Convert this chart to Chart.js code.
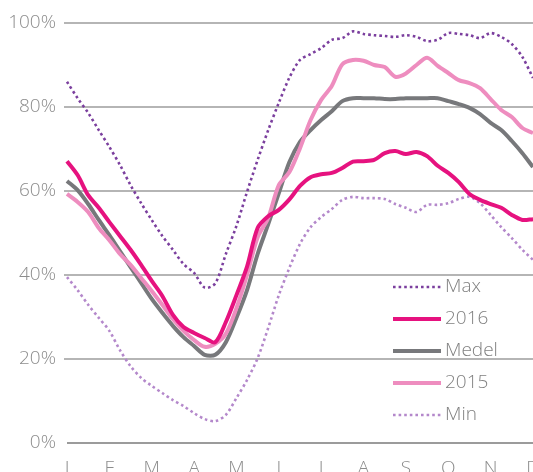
<!DOCTYPE html>
<html>
<head>
<meta charset="utf-8">
<script src="https://cdn.jsdelivr.net/npm/chart.js@4/dist/chart.umd.min.js"></script>
<style>
  html, body { margin: 0; padding: 0; background: #fff; overflow: hidden; }
  #wrap { position: relative; width: 546px; height: 472px; }
</style>
</head>
<body>
<div id="wrap"><canvas id="chart"></canvas></div>
<script>
// month initials along the x axis, weekly-ish steps in between
const months = ["J", "F", "M", "A", "M", "J", "J", "A", "S", "O", "N", "D"];
const weekLabels = months.flatMap((m, i) => (i < months.length - 1 ? [m, "", "", ""] : [m]));

const yTicks = [0, 20, 40, 60, 80, 100];

// fill level, %
const maxValues = [86, 82.1, 78.6, 74.5, 70.5, 66.2, 61.4, 57.1, 53.1, 49.3, 46, 42.6, 40.5, 37, 38,
  45, 51.7, 59.8, 67.4, 74.5, 81, 87, 91.2, 92.6, 94, 96, 96.4, 98, 97.4, 97.1, 96.9, 96.7, 97.1,
  96.7, 95.7, 96, 97.6, 97.4, 97.1, 96.4, 97.6, 96.7, 95, 91.9, 86.9];
const values2016 = [67.1, 63.8, 59, 56, 52.6, 49.3, 46, 42.4, 38.6, 35, 30.5, 27.6, 26.2, 25, 24,
  28.8, 35.2, 42, 51.2, 54, 55.5, 58, 61.2, 63.3, 64, 64.3, 65.5, 67, 67.1, 67.4, 69, 69.5, 68.8,
  69.3, 68.3, 66, 64.3, 62.1, 59.3, 57.9, 56.9, 56, 54.3, 53.1, 53.3];
const medelValues = [62.4, 60.2, 56.9, 53.1, 49.5, 45.7, 41.9, 38.1, 34.3, 31, 27.9, 25.2, 23.1, 21, 21,
  24, 29.8, 36.4, 45, 52.1, 59.5, 66.9, 71.7, 74.5, 76.9, 79, 81.4, 82.1, 82.1, 82.1, 81.9, 81.9, 82.1,
  82.1, 82.1, 82.1, 81.4, 80.7, 79.8, 78.3, 76.2, 74.5, 71.9, 69, 65.7];
const values2015 = [59.3, 57.4, 55, 51.2, 48.3, 45, 42.4, 39.3, 36.2, 32.9, 29.5, 26.7, 24.5, 22.9, 23.6,
  26, 32.1, 40, 49, 53.6, 61.4, 64.5, 70.2, 76.9, 81.7, 85, 90.2, 91.2, 91, 90, 89.5, 87.2, 88,
  90, 91.7, 89.8, 88.1, 86.4, 85.7, 84.5, 81.9, 79.3, 77.6, 75, 73.8];
const minValues = [39.5, 36.4, 32.9, 29.8, 26.7, 22.1, 18.3, 15.5, 13.6, 11.9, 10.2, 8.8, 7.1, 5.7, 5.2,
  6.7, 10.7, 15, 20.2, 27.4, 35.2, 41.7, 47.4, 51.4, 53.8, 55.7, 57.9, 58.6, 58.3, 58.3, 58.1, 56.9, 56,
  55, 56.7, 56.7, 57.1, 58.1, 58.6, 57.1, 54.3, 51.4, 48.8, 46, 43.6];

const FONT = "'Open Sans', 'Noto Sans', sans-serif";
const TEXT = "#8c8c8c";

// legend drawn inside the plot, bottom right
const insideLegend = {
  id: "insideLegend",
  afterDraw(chart, args, opts) {
    const ctx = chart.ctx;
    ctx.save();
    ctx.font = `300 ${opts.fontSize}px ${FONT}`;
    ctx.textBaseline = "middle";
    chart.data.datasets.forEach((ds, i) => {
      const y = opts.y + i * opts.rowHeight;
      ctx.beginPath();
      ctx.strokeStyle = ds.borderColor;
      ctx.lineWidth = ds.borderWidth;
      ctx.setLineDash(ds.borderDash || []);
      ctx.moveTo(opts.x, y);
      ctx.lineTo(opts.x + opts.lineLength, y);
      ctx.stroke();
      ctx.setLineDash([]);
      ctx.fillStyle = opts.color;
      ctx.fillText(ds.label, opts.x + opts.lineLength + opts.gap, y);
    });
    ctx.restore();
  }
};

const gridColor = (c) => (c.tick && c.tick.value === 0 ? "#9b9b9b" : "#b5b5b5");

new Chart(document.getElementById("chart"), {
  type: "line",
  data: {
    labels: weekLabels,
    datasets: [
      { label: "Max", data: maxValues, borderColor: "#7b3f9e", borderWidth: 2.6, borderDash: [2.6, 3], order: 0 },
      { label: "2016", data: values2016, borderColor: "#e6127f", borderWidth: 4, order: 1 },
      { label: "Medel", data: medelValues, borderColor: "#77787b", borderWidth: 4, order: 3 },
      { label: "2015", data: values2015, borderColor: "#ee8dbf", borderWidth: 4, order: 2 },
      { label: "Min", data: minValues, borderColor: "#b488cb", borderWidth: 2.6, borderDash: [2.6, 3], order: 4 }
    ]
  },
  options: {
    responsive: true,
    maintainAspectRatio: false,
    animation: false,
    devicePixelRatio: 1,
    layout: { padding: { top: 23, right: 13, left: 0, bottom: 0 } },
    elements: {
      point: { radius: 0 },
      line: { tension: 0.3, fill: false, borderCapStyle: "butt" }
    },
    plugins: {
      legend: { display: false },
      tooltip: { enabled: false },
      insideLegend: { x: 393, y: 287, rowHeight: 32, lineLength: 48, gap: 4, fontSize: 19, color: "#808080" }
    },
    scales: {
      x: {
        offset: false,
        grid: { display: false },
        border: { display: false },
        ticks: {
          autoSkip: false,
          maxRotation: 0,
          padding: 6,
          color: TEXT,
          font: { family: FONT, size: 19, weight: 300 },
          callback: (v, i) => weekLabels[i]
        },
        afterFit: (s) => { s.height = 29; }
      },
      y: {
        min: yTicks[0],
        max: yTicks[yTicks.length - 1],
        afterBuildTicks: (s) => { s.ticks = yTicks.map((v) => ({ value: v })); },
        border: { display: false },
        grid: {
          color: gridColor,
          lineWidth: 2,
          tickLength: 3,
          tickColor: (c) => (c.tick && c.tick.value === 0 ? "rgba(0,0,0,0)" : "#b5b5b5")
        },
        ticks: {
          padding: 8,
          color: TEXT,
          font: { family: FONT, size: 19, weight: 300 },
          callback: (v) => v + "%"
        },
        afterFit: (s) => { s.width = 67; }
      }
    }
  },
  plugins: [insideLegend]
});
</script>
</body>
</html>
